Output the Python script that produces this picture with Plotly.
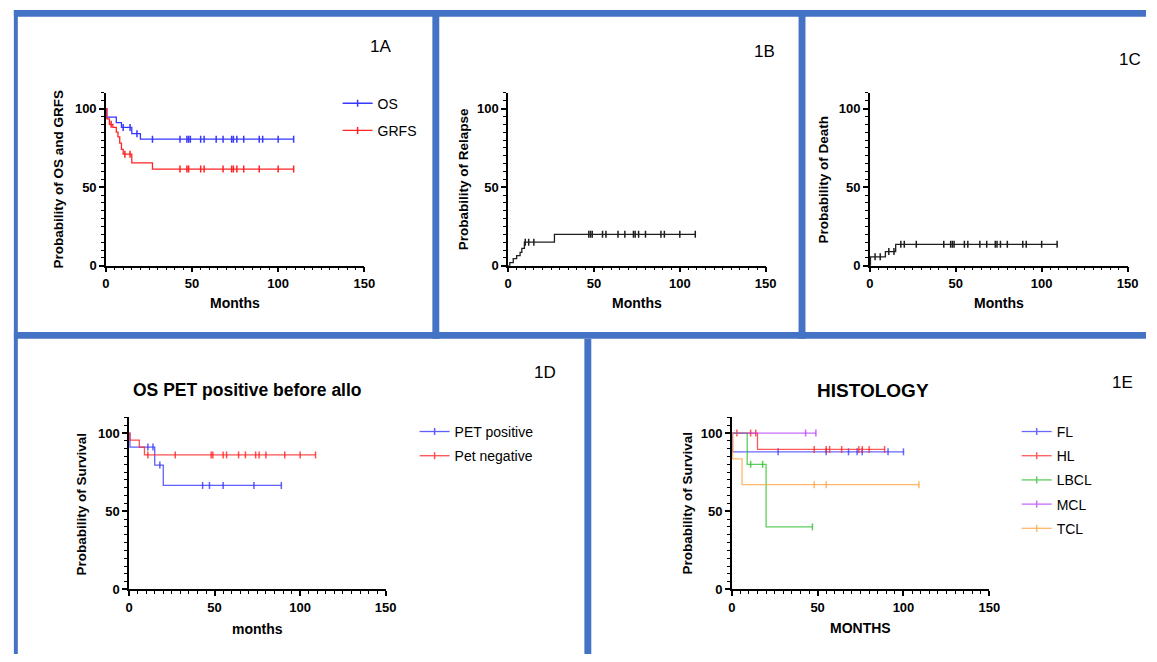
import plotly.graph_objects as go

W, H = 1157, 662

# ---------------- DATA ----------------
# 1A  Overall survival / GRFS (Kaplan-Meier, %)
os_event_t = [0.5, 6, 9, 15, 20]
os_event_s = [94.5, 91, 88, 84, 80.5]
os_censor = [10, 14, 18, 27, 43, 47, 48, 49, 55, 57, 64, 68, 73, 74, 76, 80, 89, 91, 100, 109]

grfs_event_t = [0.5, 2, 4, 6, 7, 8, 9, 10, 15, 27]
grfs_event_s = [93.5, 90, 88, 85, 82, 78, 74, 71, 65.5, 61.5]
grfs_censor = [3, 11, 14, 43, 47, 48, 55, 57, 68, 73, 74, 76, 80, 89, 100, 109]

# 1B  Relapse (cumulative incidence, %)
rel_event_t = [1, 3, 5, 7, 8, 9.5, 27]
rel_event_s = [2, 4.5, 6.5, 8.5, 11, 15, 20]
rel_censor = [10, 12, 15, 47, 48, 49, 55, 57, 64, 68, 73, 74, 76, 80, 89, 91, 100, 109]

# 1C  Death (cumulative incidence, %)
death_event_t = [0.3, 9, 15]
death_event_s = [5.7, 9, 13.6]
death_censor = [3, 6, 11, 14, 18, 20, 27, 43, 47, 48, 49, 55, 57, 64, 68, 73, 74, 76, 80, 89, 91, 100, 109]

# 1D  OS by PET status
petpos_event_t = [0.5, 15, 20]
petpos_event_s = [91, 79.5, 66.5]
petpos_censor = [11, 14, 18, 43, 47, 55, 73, 89]

petneg_event_t = [0.5, 6, 9]
petneg_event_s = [95.5, 91, 86]
petneg_censor = [11, 27, 48, 49, 55, 57, 64, 68, 74, 76, 80, 91, 100, 109]

# 1E  OS by histology
fl_event_t, fl_event_s = [0.5], [88]
fl_censor = [27, 55, 68, 73, 76, 91, 100]
hl_event_t, hl_event_s = [15], [89.5]
hl_censor = [3, 11, 14, 48, 55, 57, 64, 74, 76, 80, 89]
lbcl_event_t, lbcl_event_s = [9, 20], [80, 40]
lbcl_censor = [11, 18, 47]
mcl_event_t, mcl_event_s = [], []
mcl_censor = [43, 49]
tcl_event_t, tcl_event_s = [0.5, 6], [83.5, 67]
tcl_censor = [48, 55, 109]

x_ticks = [0, 50, 100, 150]
y_ticks = [0, 50, 100]

# ---------------- COLOURS ----------------
BLUE = "rgb(55,55,255)"
RED = "rgb(255,35,35)"
GREEN = "rgb(40,190,40)"
PURPLE = "rgb(185,60,255)"
ORANGE = "rgb(255,160,60)"
BLACK = "rgb(30,30,30)"
FRAME = "#4472C4"
FONT = "Liberation Sans, Arial, sans-serif"


def px_x(p):
    return p / W


def px_y(p):
    return 1 - p / H


fig = go.Figure()


def step_value(t, ev_t, ev_s, start):
    v = start
    for et, es in zip(ev_t, ev_s):
        if et <= t:
            v = es
    return v


def add_km(ev_t, ev_s, cens, start, color, ax, name=None, legend=None, opacity=1.0):
    end = max(cens + ev_t)
    xs = [0] + list(ev_t) + [end]
    last = ev_s[-1] if ev_s else start
    ys = [start] + list(ev_s) + [last]
    xa = "x" if ax == 1 else f"x{ax}"
    ya = "y" if ax == 1 else f"y{ax}"
    fig.add_trace(go.Scatter(x=xs, y=ys, mode="lines", line=dict(color=color, width=1.3, shape="hv"),
                             opacity=opacity, xaxis=xa, yaxis=ya, showlegend=False, hoverinfo="skip"))
    cy = [step_value(c, ev_t, ev_s, start) for c in cens]
    fig.add_trace(go.Scatter(x=cens, y=cy, mode="markers",
                             marker=dict(symbol="line-ns", size=5, line=dict(color=color, width=1.5)),
                             opacity=opacity, xaxis=xa, yaxis=ya, showlegend=False, hoverinfo="skip"))
    if name is not None:
        fig.add_trace(go.Scatter(x=[None], y=[None], mode="lines+markers", name=name,
                                 line=dict(color=color, width=1.3),
                                 marker=dict(symbol="line-ns", size=5, line=dict(color=color, width=1.5)),
                                 opacity=opacity, xaxis=xa, yaxis=ya, legend=legend,
                                 legendgroup=name + str(ax)))


add_km(os_event_t, os_event_s, os_censor, 100, BLUE, 1, "OS", "legend")
add_km(grfs_event_t, grfs_event_s, grfs_censor, 100, RED, 1, "GRFS", "legend")
add_km(rel_event_t, rel_event_s, rel_censor, 0, BLACK, 2)
add_km(death_event_t, death_event_s, death_censor, 0, BLACK, 3)
add_km(petpos_event_t, petpos_event_s, petpos_censor, 100, BLUE, 4, "PET positive", "legend2", 0.8)
add_km(petneg_event_t, petneg_event_s, petneg_censor, 100, RED, 4, "Pet negative", "legend2", 0.8)
add_km(fl_event_t, fl_event_s, fl_censor, 100, BLUE, 5, "FL", "legend3", 0.75)
add_km(hl_event_t, hl_event_s, hl_censor, 100, RED, 5, "HL", "legend3", 0.75)
add_km(lbcl_event_t, lbcl_event_s, lbcl_censor, 100, GREEN, 5, "LBCL", "legend3", 0.75)
add_km(mcl_event_t, mcl_event_s, mcl_censor, 100, PURPLE, 5, "MCL", "legend3", 0.75)
add_km(tcl_event_t, tcl_event_s, tcl_censor, 100, ORANGE, 5, "TCL", "legend3", 0.75)

# axis geometry (pixels): (x0 px, x150 px, y0 px, y110 px)
geom = {
    1: (103.3, 365.0, 269.0, 94.0),
    2: (510.7, 771.7, 269.0, 94.0),
    3: (877.3, 1138.3, 269.0, 94.0),
    4: (126.7, 386.7, 596.7, 422.5),
    5: (737.3, 998.3, 596.7, 422.5),
}

tickfont = dict(family=FONT, size=13, color="black", weight="bold")
layout = {}
for i, (x0, x1, y0, y1) in geom.items():
    xk = "xaxis" if i == 1 else f"xaxis{i}"
    yk = "yaxis" if i == 1 else f"yaxis{i}"
    layout[xk] = dict(domain=[px_x(x0), px_x(x1)], range=[0, 150], anchor="y" if i == 1 else f"y{i}",
                      showline=True, linecolor="black", linewidth=1.5, ticks="outside", ticklen=5,
                      tickwidth=1.5, tickcolor="black", tickvals=x_ticks, tickfont=tickfont,
                      showgrid=False, zeroline=False, fixedrange=True,
                      minor=dict(dtick=5, tick0=0, ticks="outside", ticklen=3, tickwidth=1.2,
                                 tickcolor="black", showgrid=False))
    layout[yk] = dict(domain=[px_y(y0), px_y(y1)], range=[0, 110], anchor="x" if i == 1 else f"x{i}",
                      showline=True, linecolor="black", linewidth=1.5, ticks="outside", ticklen=5,
                      tickwidth=1.5, tickcolor="black", tickvals=y_ticks, tickfont=tickfont,
                      showgrid=False, zeroline=False, fixedrange=True,
                      minor=dict(dtick=5, tick0=0, ticks="outside", ticklen=3, tickwidth=1.2,
                                 tickcolor="black", showgrid=False))

ann = []


def text(x, y, s, size, bold=False, angle=0, xanchor="center"):
    ann.append(dict(x=px_x(x), y=px_y(y), xref="paper", yref="paper", text=s, showarrow=False,
                    textangle=angle, xanchor=xanchor, yanchor="middle",
                    font=dict(family=FONT, size=size, color="black", weight="bold" if bold else "normal")))


# axis titles
text(234, 307, "Months", 14, True)
text(641, 307, "Months", 14, True)
text(1008, 307, "Months", 14, True)
text(257, 637, "months", 14, True)
text(868, 636, "MONTHS", 14, True)
text(55, 181.5, "Probability of OS and GRFS", 13.5, True, -90)
text(465, 181.5, "Probability of Relapse", 13.5, True, -90)
text(830, 181.5, "Probability of Death", 13.5, True, -90)
text(78, 509.6, "Probability of Survival", 13.5, True, -90)
text(692, 509.6, "Probability of Survival", 13.5, True, -90)
# panel titles
text(247, 395, "OS PET positive before allo", 17.5, True)
text(880, 395, "HISTOLOGY", 19, True)
# panel labels
text(381, 47, "1A", 17)
text(770, 52, "1B", 17)
text(1141, 60, "1C", 17)
text(548, 377, "1D", 17)
text(1133, 387, "1E", 17)

shapes = []


def rect(x0, y0, x1, y1):
    shapes.append(dict(type="rect", xref="paper", yref="paper", x0=px_x(x0), x1=px_x(x1),
                       y0=px_y(y0), y1=px_y(y1), fillcolor=FRAME, line=dict(width=0), layer="above"))


rect(10, 10, W, 17)        # top
rect(10, 10, 14, H)        # left
rect(10, 336, W, 343)      # middle horizontal
rect(434, 10, 441, 343)    # 1A | 1B
rect(805, 10, 812, 343)    # 1B | 1C
rect(588, 343, 595, H)     # 1D | 1E

legfont = dict(family=FONT, size=14, color="black")


def leg(text_x, first_y, gap):
    return dict(x=px_x(text_x - 41), y=px_y(first_y - 14), xanchor="left", yanchor="top",
                font=legfont, bgcolor="rgba(0,0,0,0)", borderwidth=0, traceorder="grouped",
                tracegroupgap=gap)


fig.update_layout(width=W, height=H, margin=dict(l=0, r=0, t=0, b=0),
                  paper_bgcolor="white", plot_bgcolor="white",
                  annotations=ann, shapes=shapes,
                  legend=leg(379, 102.7, 6), legend2=leg(457, 435, 3), legend3=leg(1067, 435, 3),
                  **layout)

post_js = (
    "var s=document.createElement('style');"
    "s.textContent='html,body{margin:0;padding:0;overflow:hidden;}';"
    "document.head.appendChild(s);"
)
fig.write_html("out.html", config={"displayModeBar": False},
               post_script=post_js)
